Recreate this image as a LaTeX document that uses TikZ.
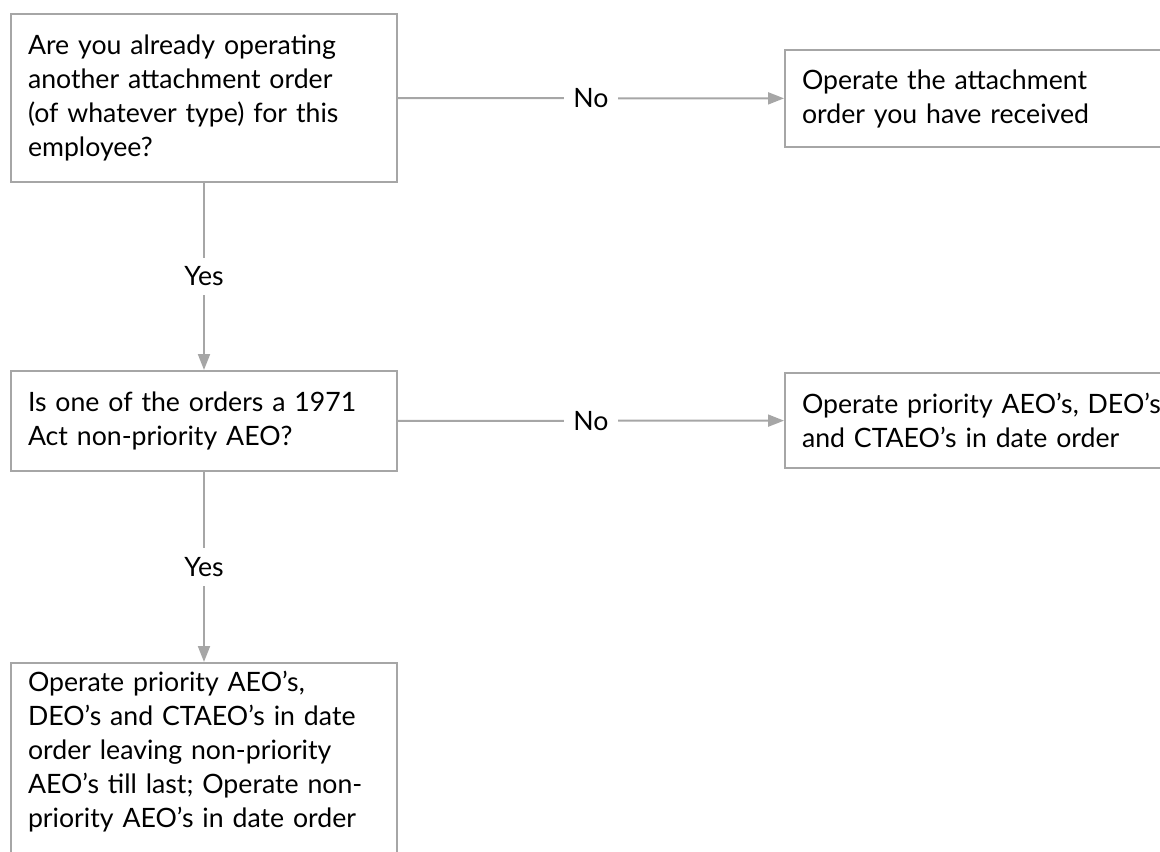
\documentclass[tikz,border=0pt]{standalone}
\usepackage{fontspec}
\setmainfont{Lato}
\usetikzlibrary{arrows.meta}
\definecolor{linegrey}{RGB}{166,166,166}
\tikzset{
	box/.style = {draw = linegrey, line width = 1.5pt, align = left, text width = 264pt, inner xsep = 12.75pt, inner ysep = 0pt, font = \fontsize{20}{25.5}\selectfont},
	link/.style = {draw = linegrey, line width = 1.5pt, -{Triangle[length = 12pt, width = 9pt]}},
	answer/.style = {fill = white, inner sep = 7pt, font = \fontsize{20}{25.5}\selectfont},
}
\begin{document}
\begin{tikzpicture}[x = 0.75pt, y = -0.75pt]
	%	page
	\def\pagew{1160}
	\def\pageh{852}
	\useasboundingbox (0, 0) rectangle (\pagew, \pageh);
	\clip (0, 0) rectangle (\pagew, \pageh);
	
	%	questions
	\node[box, minimum height = 126pt] (ask) at (204, 98) {Are you already operating\\ another attachment order\\ (of whatever type) for this\\ employee?};
	\node[box, minimum height = 75pt] (check) at (204, 421) {Is one of the orders a 1971\\ Act non-priority AEO?};
	
	%	actions
	\node[box, anchor = west, text width = 280pt, minimum height = 72.75pt] (single) at (784, 98.5) {Operate the attachment\\ order you have received};
	\node[box, anchor = west, text width = 280pt, minimum height = 71.25pt] (dated) at (784, 420.5) {Operate priority AEO's, DEO's\\ and CTAEO's in date order};
	\node[box, anchor = north, inner ysep = 6pt, text depth = 150pt] (last) at (204, 662) {Operate priority AEO's,\\ DEO's and CTAEO's in date\\ order leaving non-priority\\ AEO's till last; Operate non-\\ priority AEO's in date order};
	
	%	answers
	\draw[link] (ask) -- node[answer]{No} (single);
	\draw[link] (ask) -- node[answer]{Yes} (check);
	\draw[link] (check) -- node[answer]{No} (dated);
	\draw[link] (check) -- node[answer]{Yes} (last);
\end{tikzpicture}
\end{document}
